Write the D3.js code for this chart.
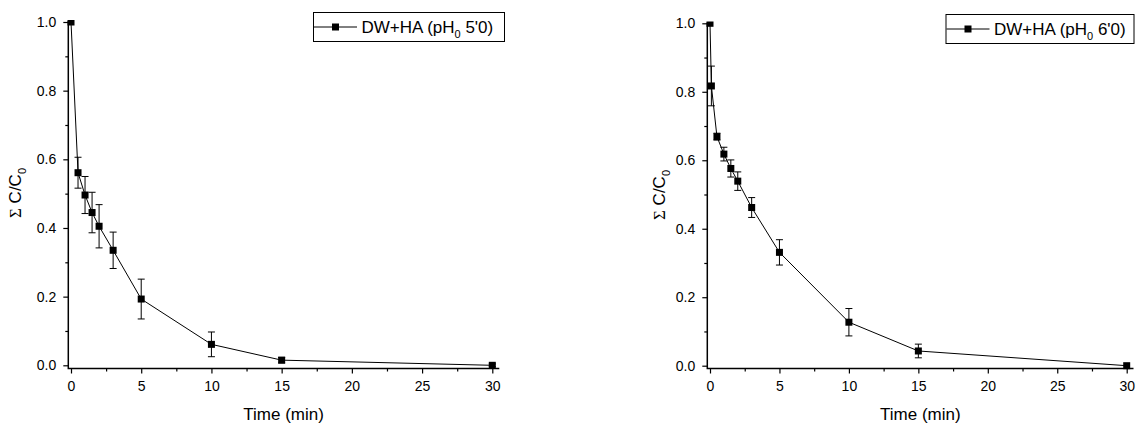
<!DOCTYPE html>
<html>
<head>
<meta charset="utf-8">
<script src="https://cdn.jsdelivr.net/npm/d3@7"></script>
<style>
  body { margin: 0; background: #fff; }
  svg { display: block; font-family: "Liberation Sans", Arial, sans-serif; }
  .tick text { font-size: 14px; fill: #000; }
  .tick line { stroke: #000; stroke-width: 1.2; }
</style>
</head>
<body>
<div id="chart"></div>
<script>
// time (min) for each panel
var timesA = [0, 0.5, 1, 1.5, 2, 3, 5, 10, 15, 30];
var valuesA = [1.0, 0.561, 0.496, 0.445, 0.405, 0.335, 0.193, 0.061, 0.015, 0.0];
var errorsA = [0, 0.045, 0.054, 0.059, 0.063, 0.053, 0.058, 0.036, 0.008, 0.004];

var timesB = [0, 0.1, 0.5, 1, 1.5, 2, 3, 5, 10, 15, 30];
var valuesB = [1.0, 0.817, 0.669, 0.618, 0.576, 0.539, 0.462, 0.331, 0.127, 0.043, 0.0];
var errorsB = [0, 0.058, 0.01, 0.02, 0.025, 0.027, 0.029, 0.037, 0.04, 0.02, 0];

var xTicks = [0, 5, 10, 15, 20, 25, 30];
var xMinor = [2.5, 7.5, 12.5, 17.5, 22.5, 27.5];
var yTicks = [0, 0.2, 0.4, 0.6, 0.8, 1.0];
var yMinor = [0.1, 0.3, 0.5, 0.7, 0.9];

var labelA = "5'0";
var labelB = "6'0";

var width = 1139,
    height = 424;

var svg = d3.select('#chart').append('svg')
    .attr('width', width)
    .attr('height', height);

function drawPanel(p, id) {
    var x = d3.scaleLinear().domain([0, 30]).range([p.x0, p.x30]);
    var y = d3.scaleLinear().domain([0, 1]).range([p.y0, p.y1]);

    var g = svg.append('g');

    // x axis
    g.append('g')
        .attr('transform', 'translate(0,' + p.axisY + ')')
        .call(d3.axisBottom(x).tickValues(xTicks).tickSize(5).tickPadding(8).tickFormat(d3.format('d')))
        .call(function(a) { a.select('.domain').remove(); });
    g.append('g')
        .attr('transform', 'translate(0,' + p.axisY + ')')
        .call(d3.axisBottom(x).tickValues(xMinor).tickSize(3).tickFormat(''))
        .call(function(a) { a.select('.domain').remove(); });

    // y axis
    g.append('g')
        .attr('transform', 'translate(' + p.axisX + ',0)')
        .call(d3.axisLeft(y).tickValues(yTicks).tickSize(5).tickPadding(7).tickFormat(d3.format('.1f')))
        .call(function(a) { a.select('.domain').remove(); });
    g.append('g')
        .attr('transform', 'translate(' + p.axisX + ',0)')
        .call(d3.axisLeft(y).tickValues(yMinor).tickSize(3).tickFormat(''))
        .call(function(a) { a.select('.domain').remove(); });

    g.selectAll('.tick text').attr('font-family', '"Liberation Sans", Arial, sans-serif');

    // axis lines
    g.append('path')
        .attr('d', 'M' + p.axisX + ',' + p.axisTop + 'V' + p.axisY + 'H' + p.axisRight)
        .attr('fill', 'none')
        .attr('stroke', '#000')
        .attr('stroke-width', 1.5);

    // axis titles
    g.append('text')
        .attr('x', (p.x0 + p.x30) / 2 + 2)
        .attr('y', 420)
        .attr('text-anchor', 'middle')
        .attr('font-size', '17px')
        .text('Time (min)');

    var yt = g.append('text')
        .attr('transform', 'translate(' + p.titleX + ',' + p.titleY + ') rotate(-90)')
        .attr('text-anchor', 'middle')
        .attr('font-size', '17px');
    yt.append('tspan').attr('font-family', '"Liberation Serif", "DejaVu Serif", serif').text('\u03A3');
    yt.append('tspan').text(' C/C');
    yt.append('tspan').attr('font-size', '11px').attr('dy', 5).text('0');

    // data
    var data = p.times.map(function(t, i) { return {t: t, v: p.values[i], e: p.errors[i]}; });

    svg.append('clipPath').attr('id', 'clip' + id)
        .append('rect')
        .attr('x', p.axisX - 10).attr('y', p.axisTop - 1)
        .attr('width', p.axisRight - p.axisX + 20).attr('height', p.axisY - p.axisTop + 10);

    var plot = g.append('g').attr('clip-path', 'url(#clip' + id + ')');

    plot.append('path')
        .datum(data)
        .attr('fill', 'none')
        .attr('stroke', '#000')
        .attr('stroke-width', 1)
        .attr('d', d3.line().x(function(d) { return x(d.t); }).y(function(d) { return y(d.v); }));

    var eb = plot.selectAll('.err')
        .data(data.filter(function(d) { return d.e > 0; }))
        .enter().append('g')
        .attr('class', 'err')
        .attr('stroke', '#000')
        .attr('stroke-width', 1);
    eb.append('line')
        .attr('x1', function(d) { return x(d.t); }).attr('x2', function(d) { return x(d.t); })
        .attr('y1', function(d) { return y(d.v + d.e); }).attr('y2', function(d) { return y(d.v - d.e); });
    eb.append('line')
        .attr('x1', function(d) { return x(d.t) - 3.5; }).attr('x2', function(d) { return x(d.t) + 3.5; })
        .attr('y1', function(d) { return y(d.v + d.e); }).attr('y2', function(d) { return y(d.v + d.e); });
    eb.append('line')
        .attr('x1', function(d) { return x(d.t) - 3.5; }).attr('x2', function(d) { return x(d.t) + 3.5; })
        .attr('y1', function(d) { return y(d.v - d.e); }).attr('y2', function(d) { return y(d.v - d.e); });

    plot.selectAll('.pt')
        .data(data)
        .enter().append('rect')
        .attr('class', 'pt')
        .attr('x', function(d) { return x(d.t) - 3.5; })
        .attr('y', function(d) { return y(d.v) - 3.5; })
        .attr('width', 7)
        .attr('height', 7)
        .attr('fill', '#000');

    // legend
    var lg = g.append('g').attr('transform', 'translate(' + p.legX + ',' + p.legY + ')');
    lg.append('rect')
        .attr('x', 0.5).attr('y', 0.5)
        .attr('width', p.legW).attr('height', p.legH)
        .attr('fill', '#fff').attr('stroke', '#000').attr('stroke-width', 1);
    lg.append('line')
        .attr('x1', 1).attr('x2', 44)
        .attr('y1', p.legH / 2 + 0.5).attr('y2', p.legH / 2 + 0.5)
        .attr('stroke', '#000').attr('stroke-width', 1);
    lg.append('rect')
        .attr('x', 22.5 - 3.5).attr('y', p.legH / 2 + 0.5 - 3.5)
        .attr('width', 7).attr('height', 7).attr('fill', '#000');
    var lt = lg.append('text')
        .attr('x', 48.5)
        .attr('y', p.legH / 2 + 6.5)
        .attr('font-size', '17px');
    lt.append('tspan').text('DW+HA (pH');
    lt.append('tspan').attr('font-size', '11px').attr('dy', 5).text('0');
    lt.append('tspan').attr('dy', -5).text(' ' + p.label + ')');
}

drawPanel({
    times: timesA, values: valuesA, errors: errorsA, label: labelA,
    x0: 71, x30: 492.3, y0: 365.3, y1: 22,
    axisX: 68.3, axisY: 368.5, axisTop: 21, axisRight: 499.3,
    titleX: 21, titleY: 193,
    legX: 313, legY: 12, legW: 191, legH: 29
}, 'A');

drawPanel({
    times: timesB, values: valuesB, errors: errorsB, label: labelB,
    x0: 710, x30: 1126.7, y0: 365.7, y1: 23.3,
    axisX: 707.3, axisY: 368.5, axisTop: 22.5, axisRight: 1133.5,
    titleX: 665, titleY: 195,
    legX: 945.5, legY: 14, legW: 188, legH: 29
}, 'B');
</script>
</body>
</html>
